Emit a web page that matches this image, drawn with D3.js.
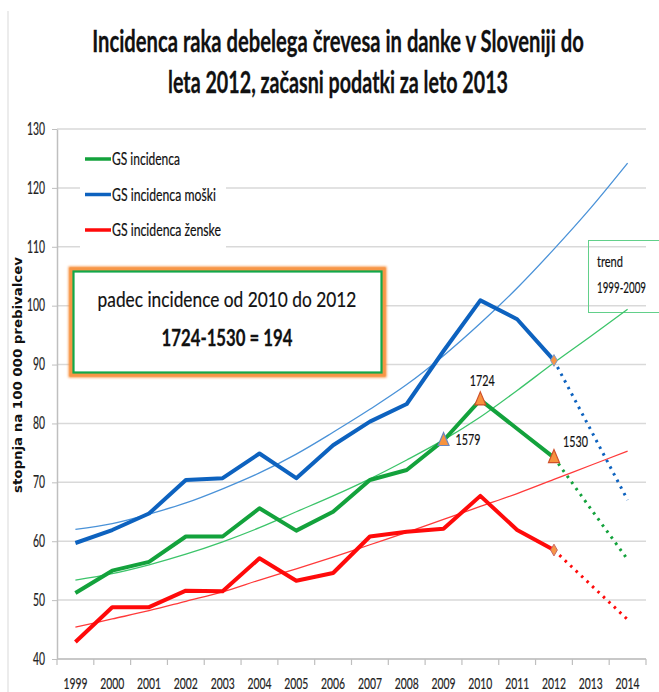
<!DOCTYPE html>
<html>
<head>
<meta charset="utf-8">
<script src="https://cdn.jsdelivr.net/npm/d3@7"></script>
<style>
  body { margin: 0; background: #fff; }
  svg { display: block; }
</style>
</head>
<body>
<div id="chart"></div>
<script>
// categories
const years = [1999, 2000, 2001, 2002, 2003, 2004, 2005, 2006, 2007, 2008, 2009, 2010, 2011, 2012, 2013, 2014];
const dataYears = [1999, 2000, 2001, 2002, 2003, 2004, 2005, 2006, 2007, 2008, 2009, 2010, 2011, 2012];
const projYears = [2012, 2013, 2014];

// incidence per 100 000
const gsAll = [51.2, 55.0, 56.5, 60.8, 60.8, 65.6, 61.8, 65.0, 70.4, 72.1, 77.1, 84.0, 79.1, 74.2];
const gsMen = [59.7, 61.9, 64.7, 70.4, 70.7, 74.9, 70.7, 76.3, 80.3, 83.3, 92.3, 100.9, 97.7, 90.7];
const gsWomen = [42.9, 48.8, 48.8, 51.6, 51.5, 57.1, 53.3, 54.6, 60.8, 61.6, 62.1, 67.7, 61.9, 58.5];

// dotted continuation 2012-2014
const projAll = [74.2, 65.5, 56.9];
const projMen = [90.7, 78.9, 67.0];
const projWomen = [58.5, 52.6, 46.7];

// thin trend lines 1999-2014
const trendAll = [53.4, 54.5, 56.0, 57.8, 59.9, 62.3, 65.0, 67.7, 70.6, 73.8, 77.2, 81.1, 85.6, 90.3, 94.8, 99.4];
const trendMen = [62.0, 63.0, 64.6, 66.5, 68.9, 71.6, 74.8, 78.5, 82.4, 86.6, 91.5, 97.0, 103.0, 109.6, 116.6, 124.2];
const trendWomen = [45.4, 46.8, 48.2, 49.8, 51.4, 53.4, 55.3, 57.3, 59.4, 61.5, 63.7, 65.9, 68.1, 70.5, 72.9, 75.3];

const yTicks = [40, 50, 60, 70, 80, 90, 100, 110, 120, 130];
const legendNames = ["GS incidenca", "GS incidenca moški", "GS incidenca ženske"];
const markYears = [2009, 2010, 2012];
const markLabels = ["1579", "1724", "1530"];

const width = 659, height = 692;
const blue = "#0d62bf", green = "#13a23c", red = "#ff0a0a";
const blueThin = "#4a92d8", greenThin = "#3cc46a", redThin = "#ff3a3a";
const font = "Lato, 'Open Sans', sans-serif";

let svg = d3.select("#chart").append("svg")
    .attr("width", width)
    .attr("height", height)

svg.append("rect").attr("width", width).attr("height", height).attr("fill", "#fff")

// narrow text: draw at full height, then squeeze horizontally to the width seen in the picture
function narrowText(str, x, y, size, target, anchor, bold) {
    let t = svg.append("text")
        .attr("font-family", font).attr("font-size", size)
        .attr("font-weight", bold ? "bold" : "normal")
        .attr("text-anchor", anchor || "start")
        .attr("fill", "#111").attr("stroke", "#111").attr("stroke-width", bold ? 0.3 : 0.2)
        .text(str)
    let w = t.node().getComputedTextLength()
    t.attr("transform", "translate(" + x + "," + y + ")scale(" + (target / w) + ",1)")
    return t
}

// outer chart border (left edge only visible)
svg.append("line")
    .attr("x1", 8).attr("x2", 8).attr("y1", 11).attr("y2", height)
    .attr("stroke", "#d9d9d9").attr("stroke-width", 1)

let x = d3.scaleBand().domain(years).range([57, 646])
let y = d3.scaleLinear().domain([40, 130]).range([659, 129])
let cx = d => x(d) + x.bandwidth() / 2

// title
narrowText("Incidenca raka debelega črevesa in danke v Sloveniji do", 338, 52, 31, 492, "middle", true)
narrowText("leta 2012, začasni podatki za leto 2013", 338, 93, 31, 340, "middle", true)

// gridlines
svg.append("g").selectAll("line")
    .data(yTicks)
    .join("line")
    .attr("x1", 57).attr("x2", 646)
    .attr("y1", d => y(d)).attr("y2", d => y(d))
    .attr("stroke", "#d9d9d9").attr("stroke-width", 1.5)

// left axis
let yAxis = svg.append("g")
    .attr("transform", "translate(57,0)")
    .call(d3.axisLeft(y).tickValues(yTicks).tickSize(5).tickPadding(7).tickSizeOuter(0))
yAxis.select(".domain").attr("stroke", "#bfbfbf").attr("stroke-width", 1.5)
yAxis.selectAll(".tick line").attr("stroke", "#bfbfbf")
yAxis.selectAll(".tick text")
    .attr("font-family", font).attr("font-size", 16.5).attr("fill", "#222")
    .attr("stroke", "#222").attr("stroke-width", 0.2)
    .attr("textLength", d => String(d).length * 6).attr("lengthAdjust", "spacingAndGlyphs")

// bottom axis: labels at centres, ticks on band edges
let xAxis = svg.append("g")
    .attr("transform", "translate(0,659)")
    .call(d3.axisBottom(x).tickSize(0).tickPadding(19))
xAxis.select(".domain").remove()
xAxis.selectAll(".tick text")
    .attr("font-family", font).attr("font-size", 16).attr("fill", "#222")
    .attr("stroke", "#222").attr("stroke-width", 0.2)
    .attr("textLength", 24).attr("lengthAdjust", "spacingAndGlyphs")
svg.append("line")
    .attr("x1", 57).attr("x2", 646).attr("y1", 659).attr("y2", 659)
    .attr("stroke", "#bfbfbf").attr("stroke-width", 1.5)
svg.append("g").selectAll("line")
    .data(years.concat([null]))
    .join("line")
    .attr("x1", d => d === null ? 646 : x(d))
    .attr("x2", d => d === null ? 646 : x(d))
    .attr("y1", 659).attr("y2", 665)
    .attr("stroke", "#bfbfbf").attr("stroke-width", 1.2)

// y axis title
svg.append("text")
    .attr("transform", "translate(18,375)rotate(-90)")
    .attr("text-anchor", "middle").attr("dominant-baseline", "middle")
    .attr("font-family", "'DejaVu Sans', Verdana, sans-serif").attr("font-weight", "bold").attr("font-size", 12)
    .attr("textLength", 236).attr("lengthAdjust", "spacingAndGlyphs")
    .attr("fill", "#111")
    .text("stopnja na 100 000 prebivalcev")

// legend (white box hides gridlines)
svg.append("rect").attr("x", 80).attr("y", 138).attr("width", 146).attr("height", 114).attr("fill", "#fff")
let legCols = [green, blue, red]
let legW = [68, 104, 109]
legendNames.forEach((n, i) => {
    let ly = 159 + i * 35.5
    svg.append("line")
        .attr("x1", 85).attr("x2", 111).attr("y1", ly).attr("y2", ly)
        .attr("stroke", legCols[i]).attr("stroke-width", 3.5)
    narrowText(n, 112, ly + 6, 17, legW[i], "start")
})

// text box with orange glow
let defs = svg.append("defs")
defs.append("filter").attr("id", "glow").attr("x", "-10%").attr("y", "-10%").attr("width", "120%").attr("height", "120%")
    .append("feGaussianBlur").attr("stdDeviation", 1.3)
svg.append("rect")
    .attr("x", 72).attr("y", 270).attr("width", 311).attr("height", 104)
    .attr("fill", "#fff").attr("stroke", "#f7913f").attr("stroke-width", 7)
    .attr("filter", "url(#glow)")
svg.append("rect")
    .attr("x", 72).attr("y", 270).attr("width", 311).attr("height", 104)
    .attr("fill", "#fff").attr("stroke", "#f79646").attr("stroke-width", 5)
svg.append("rect")
    .attr("x", 73.5).attr("y", 271.5).attr("width", 308).attr("height", 101)
    .attr("fill", "#fff").attr("stroke", "#12a84a").attr("stroke-width", 2.2)
narrowText("padec incidence od 2010 do 2012", 227, 307, 22, 259, "middle")
narrowText("1724-1530 = 194", 227, 346, 23, 131, "middle", true)

// trend label box
svg.append("rect")
    .attr("x", 588.5).attr("y", 240.5).attr("width", 90).attr("height", 72)
    .attr("fill", "none").attr("stroke", "#62d08a").attr("stroke-width", 1)
narrowText("trend", 597, 267, 16, 26, "start")
narrowText("1999-2009", 597, 293, 16, 49, "start")

// trend curves
let trendLine = d3.line().x((d, i) => cx(years[i])).y(d => y(d)).curve(d3.curveCatmullRom)
let trends = [[trendMen, blueThin], [trendAll, greenThin], [trendWomen, redThin]]
trends.forEach(t => {
    svg.append("path").datum(t[0])
        .attr("d", trendLine)
        .attr("fill", "none").attr("stroke", t[1]).attr("stroke-width", 1.3)
})

// dotted projections
let projLine = d3.line().x((d, i) => cx(projYears[i])).y(d => y(d))
let projs = [[projMen, blue], [projAll, green], [projWomen, red]]
projs.forEach(p => {
    svg.append("path").datum(p[0])
        .attr("d", projLine)
        .attr("fill", "none").attr("stroke", p[1]).attr("stroke-width", 3)
        .attr("stroke-dasharray", "2.5,5")
})

// main series
let dataLine = d3.line().x((d, i) => cx(dataYears[i])).y(d => y(d))
let series = [[gsMen, blue], [gsAll, green], [gsWomen, red]]
series.forEach(s => {
    svg.append("path").datum(s[0])
        .attr("d", dataLine)
        .attr("fill", "none").attr("stroke", s[1]).attr("stroke-width", 4)
        .attr("stroke-linejoin", "round")
})

// small diamonds at 2012 for men and women
let i2012 = dataYears.indexOf(2012)
;[[gsMen[i2012], "#7f9cc8"], [gsWomen[i2012], "#c86a6a"]].forEach(m => {
    svg.append("path")
        .attr("d", d3.symbol(d3.symbolDiamond, 40)())
        .attr("transform", "translate(" + cx(2012) + "," + y(m[0]) + ")")
        .attr("fill", "#f79646").attr("stroke", m[1]).attr("stroke-width", 1)
})

// triangle markers on total incidence
markYears.forEach((yr, i) => {
    let v = gsAll[dataYears.indexOf(yr)]
    let px = cx(yr), py = y(v)
    svg.append("path")
        .attr("d", "M" + px + "," + (py - 8) + "L" + (px + 5.5) + "," + (py + 5) + "L" + (px - 5.5) + "," + (py + 5) + "Z")
        .attr("fill", "#f7923e").attr("stroke", i === 0 ? "#6a86c0" : "#d0502a").attr("stroke-width", 1.2)
})

// marker labels
let labPos = [[12, 4, "start"], [2, -14, "middle"], [9, -11, "start"]]
markYears.forEach((yr, i) => {
    let v = gsAll[dataYears.indexOf(yr)]
    narrowText(markLabels[i], cx(yr) + labPos[i][0], y(v) + labPos[i][1], 16, 25, labPos[i][2])
})
</script>
</body>
</html>
